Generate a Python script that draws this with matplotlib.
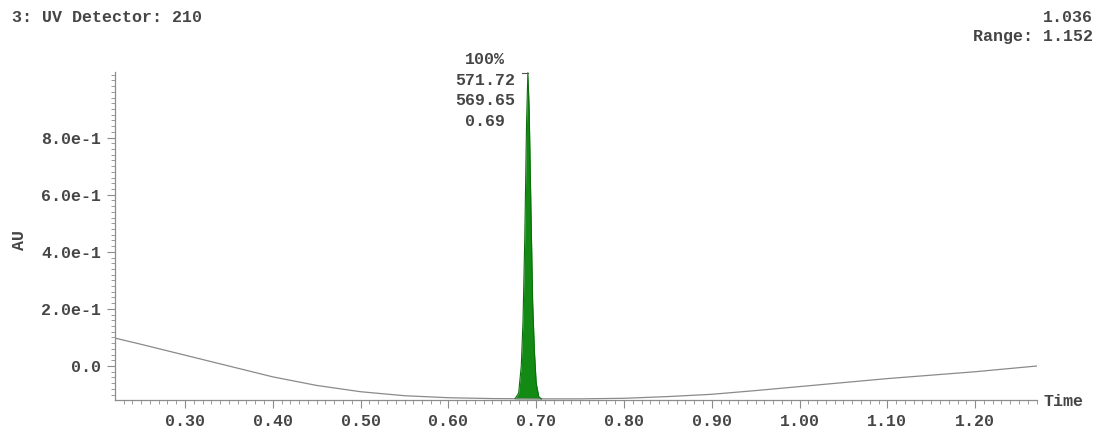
import matplotlib
matplotlib.use("Agg")
import matplotlib.pyplot as plt
from matplotlib.ticker import MultipleLocator, FormatStrFormatter

# baseline drift (time, AU)
base_t = [0.22, 0.25, 0.30, 0.35, 0.40, 0.45, 0.50, 0.55, 0.60, 0.65, 0.70,
          0.75, 0.80, 0.85, 0.90, 0.95, 1.00, 1.05, 1.10, 1.15, 1.20, 1.27]
base_au = [0.098, 0.076, 0.038, 0.000, -0.038, -0.068, -0.090, -0.104, -0.111,
           -0.114, -0.115, -0.115, -0.113, -0.107, -0.099, -0.086, -0.072,
           -0.058, -0.044, -0.032, -0.020, 0.0]

# the peak at 0.69 min
peak_t = [0.676, 0.680, 0.683, 0.685, 0.687, 0.689, 0.6905, 0.692, 0.694,
          0.696, 0.698, 0.700, 0.703, 0.706]
peak_au = [-0.114, -0.095, 0.0, 0.16, 0.45, 0.85, 1.027, 0.90, 0.55, 0.22,
           0.05, -0.06, -0.108, -0.115]
peak_labels = ["100%", "571.72", "569.65", "0.69"]

x_ticks = [0.30, 0.40, 0.50, 0.60, 0.70, 0.80, 0.90, 1.00, 1.10, 1.20]
y_ticks = [0.0, 0.2, 0.4, 0.6, 0.8]
y_tick_labels = ["0.0", "2.0e-1", "4.0e-1", "6.0e-1", "8.0e-1"]

mono = {"family": "Liberation Mono", "weight": "bold", "size": 12, "color": "#454545"}
axis_col = "#8c8c8c"

fig = plt.figure(figsize=(11.01, 4.33), dpi=100)
ax = fig.add_axes([0.1045, 0.0762, 0.8375, 0.7578])

ax.plot(base_t, base_au, color="#8a8a8a", linewidth=0.9)
ax.fill_between(peak_t, peak_au, -0.115, color="#138a13", linewidth=0)
ax.plot(peak_t, peak_au, color="#0b6e0b", linewidth=0.8)
# small marker at top of peak
ax.plot([0.684, 0.6905], [1.027, 1.027], color="#555555", linewidth=0.8)

ax.set_xlim(0.2203, 1.2706)
ax.set_ylim(-0.119, 1.03)

for s in ("top", "right"):
    ax.spines[s].set_visible(False)
for s in ("left", "bottom"):
    ax.spines[s].set_color(axis_col)
    ax.spines[s].set_linewidth(0.9)

ax.set_xticks(x_ticks)
ax.xaxis.set_major_formatter(FormatStrFormatter("%.2f"))
ax.xaxis.set_minor_locator(MultipleLocator(0.01))
ax.set_yticks(y_ticks)
ax.set_yticklabels(y_tick_labels)
ax.yaxis.set_minor_locator(MultipleLocator(0.02))
ax.tick_params(which="major", length=6, width=0.8, color=axis_col, pad=4)
ax.tick_params(which="minor", length=3, width=0.6, color=axis_col)
for lab in ax.get_xticklabels() + ax.get_yticklabels():
    lab.set_fontfamily(mono["family"])
    lab.set_fontweight("bold")
    lab.set_fontsize(mono["size"])
    lab.set_color(mono["color"])

# peak annotation
for i, txt in enumerate(peak_labels):
    fig.text(485 / 1101, 1 - (60 + i * 20.5) / 433, txt, ha="center", va="center", **mono)

fig.text(12 / 1101, 1 - 17 / 433, "3: UV Detector: 210", ha="left", va="center", **mono)
fig.text(1093 / 1101, 1 - 17 / 433, "1.036", ha="right", va="center", **mono)
fig.text(1093 / 1101, 1 - 37 / 433, "Range: 1.152", ha="right", va="center", **mono)
fig.text(1064 / 1101, 1 - 401 / 433, "Time", ha="center", va="center", **mono)
fig.text(20 / 1101, 1 - 240 / 433, "AU", ha="center", va="center", rotation=90, **mono)

fig.savefig("out.png", dpi=100)
